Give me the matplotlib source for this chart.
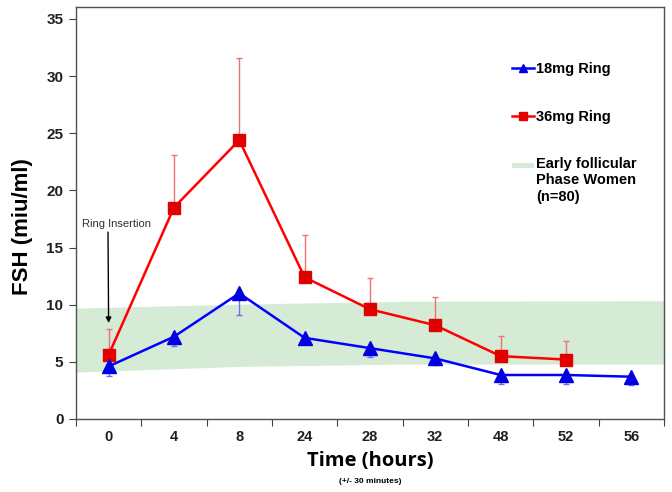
import matplotlib
matplotlib.use("Agg")
import matplotlib.pyplot as plt
import matplotlib.patches as mpatches
from matplotlib.legend_handler import HandlerPatch
import numpy as np

plt.rcParams['font.family'] = ['Liberation Sans', 'DejaVu Sans']

# categories (hours after ring insertion)
time_labels = ['0', '4', '8', '24', '28', '32', '48', '52', '56']

# 18mg ring
fsh_18 = [4.6, 7.2, 11.0, 7.1, 6.2, 5.3, 3.85, 3.85, 3.7]
err_18 = [0.85, 0.8, 1.9, 0.5, 0.8, 0.6, 0.8, 0.8, 0.7]

# 36mg ring (no value at 56h)
fsh_36 = [5.6, 18.5, 24.4, 12.4, 9.6, 8.2, 5.5, 5.2]
err_36 = [2.3, 4.6, 7.2, 3.7, 2.7, 2.5, 1.8, 1.6]

# early follicular phase reference band
band_x = [-0.5, 2.0, 4.5, 8.5]
band_low = [4.1, 4.6, 4.8, 4.8]
band_high = [9.7, 10.05, 10.3, 10.35]
BAND_COLOR = '#d6ebd6'


def top_line_patch(legend, orig_handle, xdescent, ydescent, width, height, fontsize):
    # put the band swatch next to the first line of the 3-line label
    return mpatches.Rectangle((-xdescent, -ydescent + 1.25 * fontsize), width, 0.35 * fontsize)


fig = plt.figure(figsize=(6.72, 4.92), dpi=100)
ax = fig.add_axes([0.113, 0.1484, 0.875, 0.8374])

x18 = np.arange(len(fsh_18))
x36 = np.arange(len(fsh_36))

ax.fill_between(band_x, band_low, band_high, color=BAND_COLOR, lw=0, zorder=1)

ax.errorbar(x36, fsh_36, yerr=[np.zeros(len(err_36)), err_36], fmt='none',
            ecolor='#f07070', elinewidth=1.0, capsize=2, capthick=1.0, zorder=2)
ax.errorbar(x18, fsh_18, yerr=[err_18, np.zeros(len(err_18))], fmt='none',
            ecolor='#7070f0', elinewidth=1.0, capsize=2, capthick=1.0, zorder=2)

l36, = ax.plot(x36, fsh_36, color='#ff0000', lw=1.8, marker='s', ms=8.5,
               mfc='#e00000', mec='#e00000', zorder=3)
l18, = ax.plot(x18, fsh_18, color='#0000ff', lw=1.8, marker='^', ms=10,
               mfc='#0000e0', mec='#0000e0', zorder=4)

ax.set_xlim(-0.5, 8.5)
ax.set_ylim(0, 36.05)
ax.set_yticks(range(0, 36, 5))
ax.set_xticks(np.arange(-0.5, 9, 1.0))
ax.set_xticklabels([])
ax.set_xticks(x18, minor=True)
ax.set_xticklabels(time_labels, minor=True)
ax.tick_params(axis='x', which='minor', length=0, pad=8)
ax.tick_params(axis='x', which='major', length=5, color='#404040')
ax.tick_params(axis='y', length=5, color='#404040', pad=4)
for lab in ax.get_xticklabels(minor=True):
    lab.set_fontweight('bold')
    lab.set_fontsize(10.5)
    lab.set_color('#202020')
for lab in ax.get_yticklabels():
    lab.set_fontweight('bold')
    lab.set_fontsize(11)
    lab.set_color('#202020')

for s in ax.spines.values():
    s.set_color('#505050')
    s.set_linewidth(1.0)

ax.set_ylabel('FSH (miu/ml)', fontsize=16, fontweight='bold')
ax.yaxis.set_label_coords(-0.073, 0.466)
ax.set_xlabel('Time (hours)', fontsize=14.5, fontweight='bold',
              family=['Open Sans', 'DejaVu Sans'], labelpad=5)
fig.text(0.551, 0.018, '(+/- 30 minutes)', fontsize=6, fontweight='bold', ha='center')

ax.annotate('Ring Insertion', xy=(0, 8.4), xytext=(-0.5 + 0.1, 16.6),
            fontsize=8, color='#303030', ha='left', va='bottom',
            arrowprops=dict(arrowstyle='-|>', color='black', lw=1.0,
                            shrinkA=0, shrinkB=0, mutation_scale=8,
                            relpos=(0.37, 0)))

band_proxy = mpatches.Patch(color=BAND_COLOR, lw=0)
leg = ax.legend([l18, l36, band_proxy],
                ['18mg Ring', '36mg Ring', 'Early follicular\nPhase Women\n(n=80)'],
                loc='upper left', bbox_to_anchor=(0.72, 0.898), frameon=False,
                prop={'weight': 'bold', 'size': 10.5}, labelspacing=2.3,
                handlelength=1.5, handletextpad=0.1, markerscale=0.6,
                handler_map={band_proxy: HandlerPatch(patch_func=top_line_patch)})

fig.savefig('out.png', dpi=100)
